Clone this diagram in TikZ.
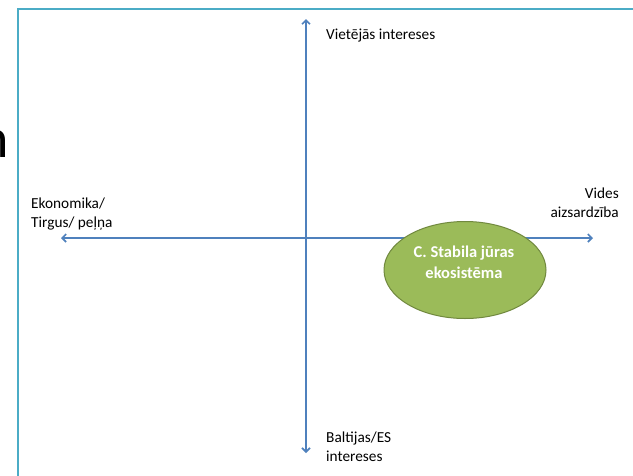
\documentclass[tikz,border=0pt]{standalone}
\usepackage{fontspec}
\setmainfont{Carlito}
\usetikzlibrary{arrows.meta,shapes.geometric}
\definecolor{axisblue}{HTML}{4F81BD}
\definecolor{framecyan}{HTML}{4BACC6}
\definecolor{olivefill}{HTML}{9BBB59}
\definecolor{olivedraw}{HTML}{71893F}
\tikzset{
  axis/.style={draw=axisblue, line width=1.6pt, {Straight Barb[length=4pt,width=8pt]}-{Straight Barb[length=4pt,width=8pt]}},
  lbl/.style={font=\fontsize{15.3}{19}\selectfont, inner sep=0pt, align=left},
  eco/.style={ellipse, draw=olivedraw, line width=1pt, fill=olivefill, minimum width=162pt, minimum height=97pt, inner sep=0pt},
  ecotext/.style={text=white, font=\bfseries\fontsize{16.5}{21}\selectfont, align=center, inner sep=0pt}
}
\begin{document}
\begin{tikzpicture}[x=1pt,y=-1pt]
\useasboundingbox (0,0) rectangle (633,475);
\clip (0,0) rectangle (633,475);
\fill[white] (0,0) rectangle (633,475);
\draw[framecyan, line width=1.8pt] (18,500) -- (18,9) -- (660,9);
\node[anchor=base east, inner sep=0pt, font=\fontsize{56}{60}\selectfont] (nletter) at (9,157) {n};
\coordinate (top) at (306,19);
\coordinate (bot) at (306,453);
\coordinate (left) at (61,238);
\coordinate (right) at (593,238);
\draw[axis] (bot) -- (top);
\draw[axis] (left) -- (right);
\node[eco] (ell) at (465,270) {};
\node[ecotext] (elltext) at (464,262) {C. Stabila jūras\\ekosistēma};
\node[lbl, anchor=base west] (viet) at (326,39) {Vietējās intereses};
\node[lbl, anchor=base west] (eko) at (31,227) {Ekonomika/\\Tirgus/ peļņa};
\node[lbl, anchor=base east, align=right] (vides) at (619,217) {Vides\\aizsardzība};
\node[lbl, anchor=base west] (balt) at (326,461) {Baltijas/ES\\intereses};
\end{tikzpicture}
\end{document}
